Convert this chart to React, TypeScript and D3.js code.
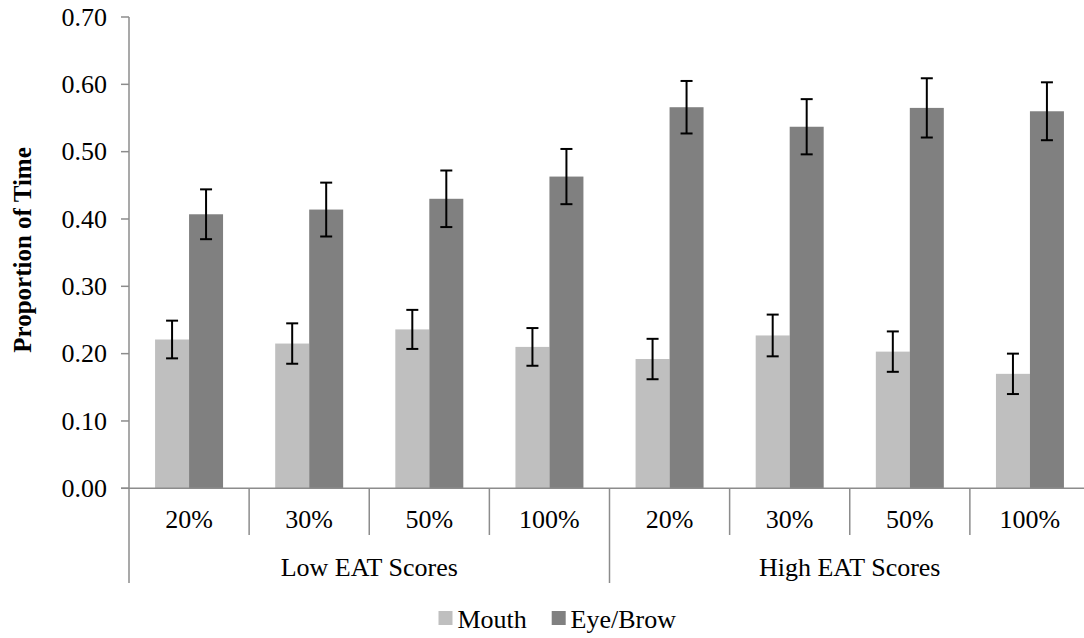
import React from "react";
import * as d3 from "d3";

// Gaze proportions by image completeness, split by EAT score group
const groups = ["Low EAT Scores", "High EAT Scores"];
const levels = ["20%", "30%", "50%", "100%"];
const seriesNames = ["Mouth", "Eye/Brow"];

const mouthLow = [0.221, 0.215, 0.236, 0.210];
const mouthHigh = [0.192, 0.227, 0.203, 0.170];
const eyeLow = [0.407, 0.414, 0.430, 0.463];
const eyeHigh = [0.566, 0.537, 0.565, 0.560];

const mouthErrLow = [0.028, 0.030, 0.029, 0.028];
const mouthErrHigh = [0.030, 0.031, 0.030, 0.030];
const eyeErrLow = [0.037, 0.040, 0.042, 0.041];
const eyeErrHigh = [0.039, 0.041, 0.044, 0.043];

const yTicks = [0, 0.1, 0.2, 0.3, 0.4, 0.5, 0.6, 0.7];

const colors = { Mouth: "#bfbfbf", "Eye/Brow": "#808080" };
const axisColor = "#8c8c8c";
const font = "'Liberation Serif', 'Times New Roman', serif";

type Row = { key: string; group: string; level: string; values: { name: string; v: number; e: number }[] };

const rows: Row[] = [];
groups.forEach((g, gi) => {
  levels.forEach((lv, li) => {
    const m = gi === 0 ? mouthLow[li] : mouthHigh[li];
    const me = gi === 0 ? mouthErrLow[li] : mouthErrHigh[li];
    const e = gi === 0 ? eyeLow[li] : eyeHigh[li];
    const ee = gi === 0 ? eyeErrLow[li] : eyeErrHigh[li];
    rows.push({
      key: `${g}-${lv}`,
      group: g,
      level: lv,
      values: [
        { name: "Mouth", v: m, e: me },
        { name: "Eye/Brow", v: e, e: ee },
      ],
    });
  });
});

export default function App() {
  const W = 1084;
  const H = 638;
  const left = 129;
  const right = 1090;
  const top = 17;
  const bottom = 488.3;

  const y = d3.scaleLinear().domain([0, 0.7]).range([bottom, top]);
  const x = d3.scaleBand<string>().domain(rows.map((r) => r.key)).range([left, right]).padding(0);
  const step = x.step();
  const inner = d3
    .scaleBand<string>()
    .domain(seriesNames)
    .range([0, step])
    .paddingInner(0)
    .paddingOuter(0.767);

  const fs = 26;
  const capW = 6;

  return (
    <svg
      width={W}
      height={H}
      style={{ position: "absolute", left: 0, top: 0, background: "#fff", fontFamily: font }}
    >
      {/* bars */}
      {rows.map((r) => (
        <g key={r.key} transform={`translate(${x(r.key)},0)`}>
          {r.values.map((d) => (
            <rect
              key={d.name}
              x={inner(d.name)}
              y={y(d.v)}
              width={inner.bandwidth()}
              height={y(0) - y(d.v)}
              fill={(colors as any)[d.name]}
            />
          ))}
        </g>
      ))}

      {/* y axis */}
      <line x1={left} x2={left} y1={top} y2={bottom} stroke={axisColor} strokeWidth={1.5} />
      {yTicks.map((t) => (
        <g key={t}>
          <line x1={left - 8} x2={left} y1={y(t)} y2={y(t)} stroke={axisColor} strokeWidth={1.5} />
          <text x={107} y={y(t)} dy="0.34em" textAnchor="end" fontSize={fs} fill="#000">
            {d3.format(".2f")(t)}
          </text>
        </g>
      ))}

      {/* x axis */}
      <line x1={left - 8} x2={W} y1={bottom} y2={bottom} stroke={axisColor} strokeWidth={1.5} />
      {rows.map((r, i) => {
        const x0 = x(r.key) as number;
        const isGroupEdge = i % levels.length === 0;
        return (
          <g key={r.key}>
            <line
              x1={x0}
              x2={x0}
              y1={bottom}
              y2={isGroupEdge ? 583 : 535}
              stroke={axisColor}
              strokeWidth={1.5}
            />
            <text x={x0 + step / 2} y={528} textAnchor="middle" fontSize={fs} fill="#000">
              {r.level}
            </text>
          </g>
        );
      })}
      <line x1={right} x2={right} y1={bottom} y2={583} stroke={axisColor} strokeWidth={1.5} />
      {groups.map((g, gi) => {
        const x0 = left + gi * levels.length * step;
        const x1 = x0 + levels.length * step;
        return (
          <text key={g} x={(x0 + x1) / 2} y={576} textAnchor="middle" fontSize={fs} fill="#000">
            {g}
          </text>
        );
      })}

      {/* error bars */}
      {rows.map((r) => (
        <g key={r.key + "-err"} transform={`translate(${x(r.key)},0)`}>
          {r.values.map((d) => {
            const cx = (inner(d.name) as number) + inner.bandwidth() / 2;
            return (
              <g key={d.name} stroke="#000" strokeWidth={2}>
                <line x1={cx} x2={cx} y1={y(d.v + d.e)} y2={y(d.v - d.e)} />
                <line x1={cx - capW} x2={cx + capW} y1={y(d.v + d.e)} y2={y(d.v + d.e)} />
                <line x1={cx - capW} x2={cx + capW} y1={y(d.v - d.e)} y2={y(d.v - d.e)} />
              </g>
            );
          })}
        </g>
      ))}

      {/* y axis title */}
      <text
        transform={`translate(31,${250}) rotate(-90)`}
        textAnchor="middle"
        fontSize={25}
        fontWeight="bold"
        fill="#000"
      >
        Proportion of Time
      </text>

      {/* legend */}
      <g>
        <rect x={438.5} y={611} width={14} height={14} fill={colors.Mouth} />
        <text x={457.5} y={628.3} fontSize={fs} fill="#000">
          Mouth
        </text>
        <rect x={551.7} y={611} width={14} height={14} fill={colors["Eye/Brow"]} />
        <text x={570.5} y={628.3} fontSize={fs} fill="#000">
          Eye/Brow
        </text>
      </g>
    </svg>
  );
}
